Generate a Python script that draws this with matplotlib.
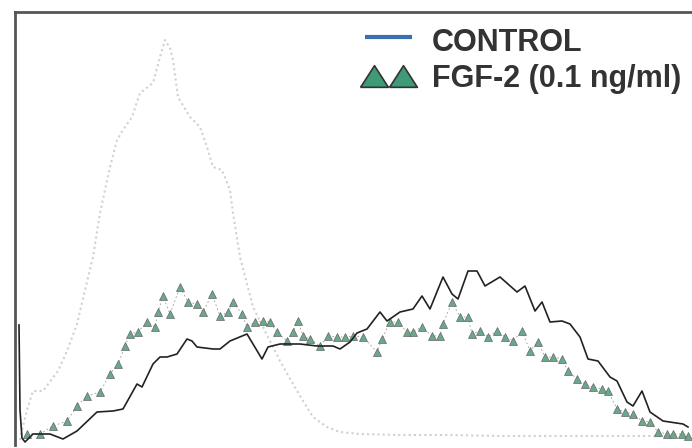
import numpy as np
import matplotlib
matplotlib.use('Agg')
import matplotlib.pyplot as plt

# channel / count values (arbitrary units)
control_x = [4, 5, 7, 10, 18, 35, 48, 62, 82, 98, 108, 122, 127, 138, 145, 152, 162, 172, 177, 182,
             198, 205, 215, 232, 247, 253, 265, 272, 285, 302, 318, 325, 335, 342, 352, 365, 372, 385, 398, 407,
             415, 428, 437, 443, 453, 462, 470, 485, 502, 510, 520, 527, 535, 547, 555, 565, 573, 583, 595, 602,
             612, 618, 627, 635, 648, 668, 673]
control_y = [120, 35, 7, 3, 11, 11, 6, 14, 33, 34, 36, 61, 58, 81, 88, 88, 91, 106, 104, 98,
             96, 96, 104, 111, 86, 98, 101, 101, 101, 99, 99, 96, 103, 112, 116, 133, 124, 133, 136, 149,
             136, 168, 151, 146, 174, 174, 159, 168, 153, 159, 134, 143, 123, 124, 121, 108, 86, 84, 68, 64,
             43, 39, 54, 33, 24, 21, 18]

fgf_x = [12, 25, 38, 52, 62, 72, 85, 95, 103, 110, 115, 123, 132, 140, 143, 148, 155, 165, 173, 182,
         188, 197, 205, 213, 218, 227, 232, 240, 248, 255, 262, 272, 278, 283, 288, 295, 305, 313, 322, 330,
         338, 348, 362, 367, 375, 383, 392, 398, 407, 417, 425, 428, 437, 445, 453, 457, 465, 473, 482, 490,
         498, 507, 515, 523, 530, 538, 547, 553, 562, 570, 578, 587, 593, 602, 610, 618, 627, 635, 643, 652,
         658, 667, 673]
fgf_y = [11, 11, 19, 24, 39, 49, 53, 71, 81, 99, 111, 113, 123, 118, 133, 149, 131, 158, 143, 141,
         133, 151, 129, 133, 143, 131, 118, 123, 124, 123, 113, 104, 113, 124, 109, 106, 99, 109, 108, 108,
         109, 108, 93, 106, 123, 123, 113, 113, 118, 109, 109, 121, 143, 128, 128, 111, 114, 108, 114, 108,
         104, 114, 94, 103, 88, 88, 86, 74, 66, 61, 58, 56, 54, 36, 33, 31, 24, 23, 13, 11,
         11, 11, 9]

other_x = [5, 7, 12, 18, 28, 43, 52, 62, 70, 78, 85, 95, 102, 108, 117, 125, 138, 145, 150, 155,
           158, 163, 175, 185, 193, 198, 207, 215, 218, 225, 238, 248, 265, 278, 288, 298, 312, 325, 345, 385,
           435, 485, 535, 585, 635, 675]
other_y = [5, 15, 35, 54, 54, 74, 94, 121, 155, 188, 232, 278, 305, 315, 328, 352, 362, 388, 405, 397,
           385, 348, 328, 318, 295, 278, 275, 255, 232, 188, 138, 118, 84, 61, 44, 28, 18, 13, 11, 10,
           10, 9, 9, 9, 9, 8]

fig = plt.figure(figsize=(6.92, 4.48), dpi=100)
ax = fig.add_axes([15 / 692, 3 / 448, 677 / 692, 433 / 448])

ax.plot(other_x, other_y, color='#d0d0d0', lw=1.5, linestyle=(0, (1, 1.5)))
ax.plot(fgf_x, fgf_y, color='#999999', lw=0.6, linestyle=(0, (2, 3)))
ax.plot(fgf_x, fgf_y, linestyle='none', marker='^', markersize=6,
        markerfacecolor='#6aa88c', markeredgecolor='#666666', markeredgewidth=0.5)
ax.plot(control_x, control_y, color='#222222', lw=1.2)

ax.set_xlim(0, 677)
ax.set_ylim(0, 433)
ax.set_xticks([])
ax.set_yticks([])
for s in ['right', 'bottom']:
    ax.spines[s].set_visible(False)
for s in ['left', 'top']:
    ax.spines[s].set_color('#555555')
    ax.spines[s].set_linewidth(2)

# legend drawn by hand
wide_tri = [(-1, -0.78), (1, -0.78), (0, 0.78), (-1, -0.78)]
ax.plot([0.517, 0.587], [0.942, 0.942], transform=ax.transAxes, color='#3b6fb3', lw=3,
        clip_on=False, solid_capstyle='butt')
ax.plot([0.530, 0.573], [0.852, 0.852], transform=ax.transAxes, linestyle='none',
        marker=wide_tri, markersize=20, markerfacecolor='#3f9a78', markeredgecolor='#333333',
        markeredgewidth=1.2, clip_on=False)
ax.text(0.616, 0.910, 'CONTROL', transform=ax.transAxes, va='baseline', ha='left',
        fontsize=22, fontweight='bold', family='Liberation Sans', color='#333333')
ax.text(0.616, 0.827, 'FGF-2 (0.1 ng/ml)', transform=ax.transAxes, va='baseline', ha='left',
        fontsize=22, fontweight='bold', family='Liberation Sans', color='#333333')

fig.savefig('out.png', dpi=100)
